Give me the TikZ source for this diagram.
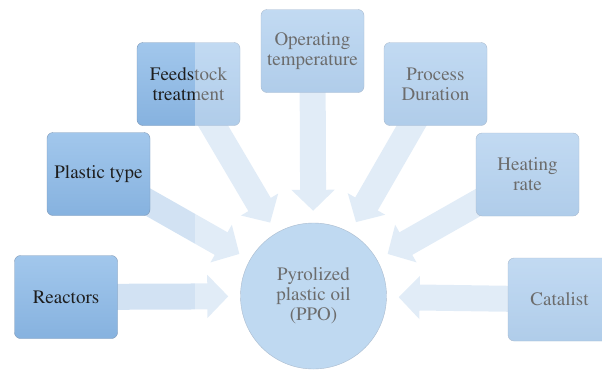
\documentclass[tikz,border=0pt]{standalone}
\usepackage[T1]{fontenc}
\usepackage{mathptmx}
\usetikzlibrary{arrows.meta}

\definecolor{boxtop}{HTML}{A2C7EC}
\definecolor{boxbot}{HTML}{86B2DF}
\definecolor{boxedge}{HTML}{7E98B6}
\definecolor{oilblue}{HTML}{9DC5EA}
\definecolor{flowblue}{HTML}{D2E2F3}
\definecolor{ink}{HTML}{1E1E1E}

\pgfdeclarelayer{background}
\pgfsetlayers{background,main}

\begin{document}
\begin{tikzpicture}[x=1pt,y=-1pt,
    factor/.style={draw=boxedge, rounded corners=6pt, top color=boxtop, bottom color=boxbot,
        minimum width=103pt, minimum height=83pt, inner sep=2pt, align=center,
        text=ink, font=\fontsize{19}{20}\selectfont},
    inflow/.style={line width=26pt, draw=flowblue, shorten >=12pt,
        -{Triangle[length=21pt,width=42pt]}}]

\useasboundingbox (0,0) rectangle (602,370);
\clip (0,0) rectangle (602,370);

\node [circle, draw=boxedge, fill=oilblue, minimum size=146pt, inner sep=0pt,
       align=center, text=ink, font=\fontsize{19}{20}\selectfont]
      (ppo) at (313.5,296) {Pyrolized\\plastic oil\\(PPO)};

\node [factor] (reac)  at (66,297)    {Reactors};
\node [factor] (plast) at (98.5,174)  {Plastic type};
\node [factor] (feed)  at (188.5,84)  {Feedstock\\treatment};
\node [factor] (oper)  at (312.5,51)  {Operating\\temperature};
\node [factor] (proc)  at (435.5,84)  {Process\\Duration};
\node [factor] (heat)  at (527.5,174.5) {Heating\\rate};
\node [factor] (cata)  at (559.5,299.5) {Catalist};

\begin{pgfonlayer}{background}
\foreach \i in {reac,plast,feed,oper,proc,heat,cata}
    \draw [inflow] (\i.center) -- (ppo);
\end{pgfonlayer}

% pale wash over the right part
\fill [white, opacity=0.35] (195,0) rectangle (602,370);

\end{tikzpicture}
\end{document}
